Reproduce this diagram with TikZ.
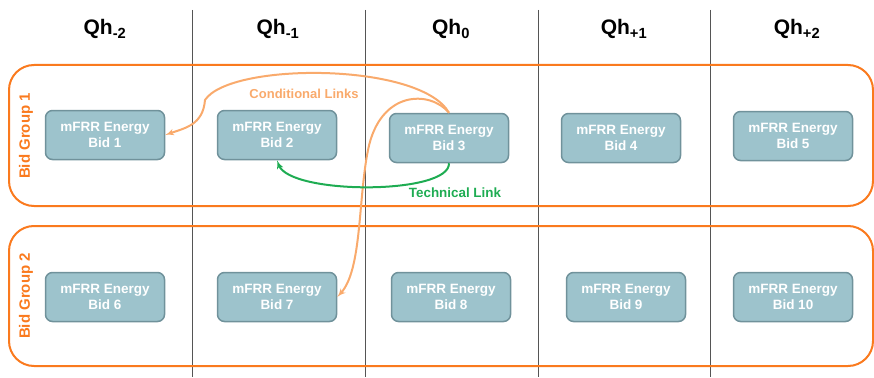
\documentclass[tikz,border=0pt]{standalone}
\usepackage{fontspec}
\setmainfont{Liberation Sans}
\usetikzlibrary{arrows}

\definecolor{grouporange}{RGB}{250,122,30}
\definecolor{condorange}{RGB}{249,170,108}
\definecolor{techgreen}{RGB}{30,172,82}
\definecolor{bidfill}{RGB}{157,195,204}
\definecolor{bidborder}{RGB}{112,146,155}
\definecolor{gridgray}{RGB}{85,85,85}

\begin{document}
\begin{tikzpicture}[x=1pt,y=-1pt]

\tikzset{bid/.style = {shape=rectangle,rounded corners=7pt,draw=bidborder,fill=bidfill,line width=1.5pt,minimum width=119pt,minimum height=49pt,align=center,text=white,font=\fontsize{13.5}{16}\selectfont\bfseries}}
\tikzset{qh/.style = {anchor=base,font=\fontsize{21}{24}\selectfont\bfseries}}
\tikzset{group/.style = {draw=grouporange,line width=2pt,rounded corners=25pt}}
\tikzset{grouplabel/.style = {rotate=90,text=grouporange,font=\fontsize{15}{18}\selectfont\bfseries}}
\tikzset{condlink/.style = {->,> = latex',draw=condorange,line width=2pt}}
\tikzset{techlink/.style = {->,> = latex',draw=techgreen,line width=2pt}}

\useasboundingbox (0,0) rectangle (874,377);

%columns
\foreach \x in {192,365,538,710}
  \draw[gridgray,line width=1pt] (\x,10) -- (\x,377);
\node[qh] (qhm2) at (105,35) {Qh\textsubscript{-2}};
\node[qh] (qhm1) at (278,35) {Qh\textsubscript{-1}};
\node[qh] (qh0) at (451,35) {Qh\textsubscript{0}};
\node[qh] (qhp1) at (624,35) {Qh\textsubscript{+1}};
\node[qh] (qhp2) at (797,35) {Qh\textsubscript{+2}};

%groups
\draw[group] (9,65) rectangle (873,206);
\draw[group] (9,226) rectangle (873,366);
\node[grouplabel] (group1) at (26,136) {Bid Group 1};
\node[grouplabel] (group2) at (26,296) {Bid Group 2};

%bids
\node[bid] (b1) at (105,135) {mFRR Energy\\Bid 1};
\node[bid] (b2) at (277,135) {mFRR Energy\\Bid 2};
\node[bid] (b3) at (449,138) {mFRR Energy\\Bid 3};
\node[bid] (b4) at (621,138) {mFRR Energy\\Bid 4};
\node[bid] (b5) at (793,136) {mFRR Energy\\Bid 5};
\node[bid] (b6) at (105,297) {mFRR Energy\\Bid 6};
\node[bid] (b7) at (277,297) {mFRR Energy\\Bid 7};
\node[bid] (b8) at (451,297) {mFRR Energy\\Bid 8};
\node[bid] (b9) at (626,297) {mFRR Energy\\Bid 9};
\node[bid] (b10) at (793,297) {mFRR Energy\\Bid 10};

%links
\draw[condlink] (b3.north) .. controls (420,62) and (230,62) .. (205,100)
  .. controls (203,125) and (185,128) .. (b1.east);
\draw[condlink] (b3.north) .. controls (430,90) and (380,90) .. (368,150)
  .. controls (358,200) and (362,270) .. (b7.east);
\draw[techlink] (b3.south) .. controls (450,195) and (290,195) .. (b2.south);
\node[anchor=base,text=condorange,font=\fontsize{13}{15}\selectfont\bfseries] (condlabel) at (304,99) {Conditional Links};
\node[anchor=base,text=techgreen,font=\fontsize{13.4}{15}\selectfont\bfseries] (techlabel) at (455,197) {Technical Link};

\end{tikzpicture}
\end{document}
